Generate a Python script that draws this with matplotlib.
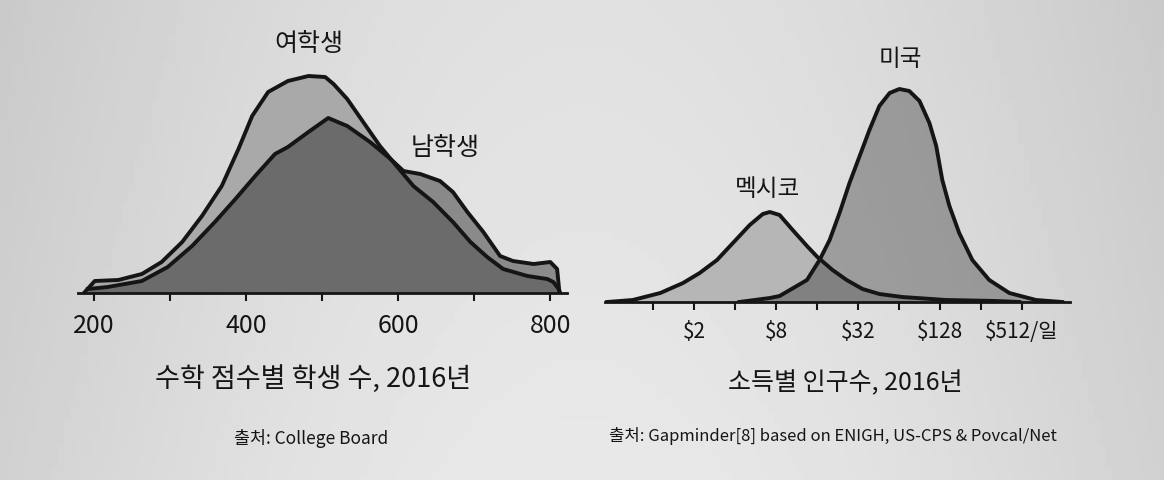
import matplotlib
matplotlib.use("Agg")
import matplotlib.pyplot as plt
import numpy as np
from matplotlib.ticker import FixedLocator, NullFormatter

plt.rcParams['font.family'] = ['Noto Sans CJK KR', 'DejaVu Sans']
plt.rcParams['text.parse_math'] = False

# 수학 점수별 학생 수 (상대 높이)
female_score = [188, 201, 232, 263, 289, 316, 342, 368, 390, 408, 429, 455, 482, 504, 515,
                533, 554, 576, 599, 620, 646, 672, 695, 717, 738, 770, 796, 804, 811, 813]
female_count = [1, 12, 13, 19, 31, 51, 77, 107, 144, 177, 201, 212, 217, 216, 209,
                194, 171, 147, 126, 107, 91, 71, 51, 36, 24, 17, 14, 11, 4, 0]
male_score = [192, 218, 263, 297, 329, 359, 386, 412, 438, 455, 482, 508, 533, 563,
              590, 607, 629, 655, 672, 691, 712, 734, 751, 778, 800, 809, 812]
male_count = [4, 6, 12, 26, 47, 71, 94, 117, 139, 146, 161, 175, 167, 151,
              134, 122, 119, 112, 101, 81, 61, 37, 32, 29, 31, 24, 1]

# 소득별 인구수 ($/일, 상대 높이)
mex_income = [0.46, 0.71, 1.13, 1.66, 2.2, 2.95, 3.86, 5.13, 6.4, 7.2, 8.5, 10.6, 13.5,
              16.1, 20.8, 26.4, 34.5, 45.9, 67.6, 142, 331, 488]
mex_pop = [0, 2, 9, 19, 29, 42, 59, 77, 88, 90, 87, 72, 56,
           45, 32, 22, 13, 8, 5, 2, 1, 0]
us_income = [4.3, 7.2, 8.5, 13.5, 16.7, 19.8, 23.4, 27.7, 32.9, 38.8, 45.9, 54.6, 64.4,
             76.1, 90.5, 107, 120, 133, 150, 177, 221, 294, 413, 648, 1010]
us_pop = [0, 4, 6, 22, 42, 62, 89, 119, 146, 172, 196, 209, 213,
          211, 201, 179, 156, 122, 96, 69, 42, 22, 9, 2, 0]

score_ticks = [200, 400, 600, 800]
score_minor = [300, 500, 700]
income_ticks = [2, 8, 32, 128, 512]
income_labels = ['$2', '$8', '$32', '$128', '$512/일']
income_minor = [1, 4, 16, 64, 256]

W, H = 1164, 481
fig = plt.figure(figsize=(W / 100, H / 100), dpi=100)
fig.patch.set_facecolor('#d8d8d8')

# 종이 사진 느낌의 배경 그라데이션
bg = fig.add_axes([0, 0, 1, 1], zorder=-10)
gx = np.linspace(0, 1, 200)
gy = np.linspace(0, 1, 80)
GX, GY = np.meshgrid(gx, gy)
shade = 0.79 + 0.09 * np.sin(np.pi * GX) + 0.03 * GY
bg.imshow(shade, cmap='gray', vmin=0, vmax=1, aspect='auto', extent=[0, 1, 0, 1])
bg.axis('off')

ink = '#151515'
lw = 2.8
wt = 'medium'


def px_axes(x0, x1, base, top):
    return [x0 / W, (H - base) / H, (x1 - x0) / W, (base - top) / H]


def style(ax):
    for s in ['top', 'right', 'left']:
        ax.spines[s].set_visible(False)
    ax.spines['bottom'].set_linewidth(2)
    ax.spines['bottom'].set_color(ink)
    ax.set_yticks([])
    ax.patch.set_alpha(0)
    ax.tick_params(axis='x', which='both', direction='out', length=6, width=1.5, color=ink)


# 왼쪽: 수학 점수
ax1 = fig.add_axes(px_axes(78, 567, 294, 40))
ax1.fill_between(female_score, female_count, color='#a9a9a9', zorder=1)
ax1.fill_between(male_score, male_count, color='#262626', alpha=0.47, lw=0, zorder=2)
ax1.plot(female_score, female_count, color=ink, lw=lw, zorder=3, solid_joinstyle='round')
ax1.plot(male_score, male_count, color=ink, lw=lw, zorder=3, solid_joinstyle='round')
ax1.set_xlim(179, 822)
ax1.set_ylim(0, 254)
style(ax1)
ax1.set_xticks(score_ticks)
ax1.set_xticklabels([str(t) for t in score_ticks], fontsize=18, color=ink)
ax1.xaxis.set_minor_locator(FixedLocator(score_minor))
ax1.tick_params(axis='x', which='major', pad=8)
ax1.text(483, 250, '여학생', ha='center', va='center', fontsize=18, color=ink,
         fontweight=wt, clip_on=False)
ax1.text(662, 146, '남학생', ha='center', va='center', fontsize=18, color=ink, fontweight=wt)

# 오른쪽: 소득
ax2 = fig.add_axes(px_axes(605, 1070, 303, 49))
ax2.set_xscale('log', base=2)
ax2.fill_between(mex_income, mex_pop, color='#b6b6b6', zorder=1)
ax2.fill_between(us_income, us_pop, color='#161616', alpha=0.33, lw=0, zorder=2)
ax2.plot(mex_income, mex_pop, color=ink, lw=lw, zorder=3, solid_joinstyle='round')
ax2.plot(us_income, us_pop, color=ink, lw=lw, zorder=3, solid_joinstyle='round')
ax2.set_xlim(0.444, 1152)
ax2.set_ylim(0, 254)
style(ax2)
ax2.xaxis.set_major_locator(FixedLocator(income_ticks))
ax2.set_xticklabels(income_labels, fontsize=15, color=ink)
ax2.xaxis.set_minor_locator(FixedLocator(income_minor))
ax2.xaxis.set_minor_formatter(NullFormatter())
ax2.tick_params(axis='x', which='major', pad=7)
ax2.text(6.9, 113, '멕시코', ha='center', va='center', fontsize=17, color=ink, fontweight=wt)
ax2.text(66, 243, '미국', ha='center', va='center', fontsize=17, color=ink, fontweight=wt)


def ftext(x, y, s, **kw):
    fig.text(x / W, 1 - y / H, s, ha='center', va='center', color=ink, **kw)


ftext(313, 379, '수학 점수별 학생 수, 2016년', fontsize=19.5, fontweight=wt)
ftext(845, 383, '소득별 인구수, 2016년', fontsize=18, fontweight=wt)
ftext(311, 438, '출처: College Board', fontsize=12.5)
ftext(833, 436, '출처: Gapminder[8] based on ENIGH, US-CPS & Povcal/Net', fontsize=12)

fig.savefig('out.png', dpi=100, facecolor=fig.get_facecolor())
